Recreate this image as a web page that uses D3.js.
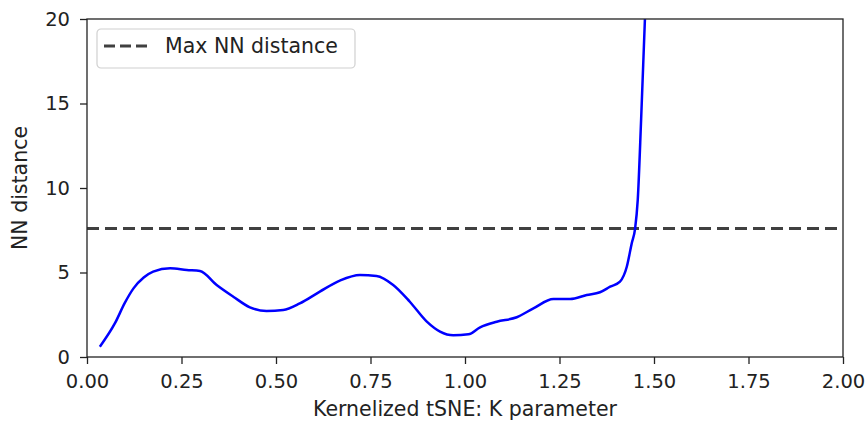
<!DOCTYPE html>
<html>
<head>
<meta charset="UTF-8">
<script src="https://d3js.org/d3.v7.min.js"></script>
<style>
  body { margin: 0; background: #fff; }
  svg text { font-family: "DejaVu Sans", sans-serif; fill: #222; }
</style>
</head>
<body>
<svg></svg>
<script>

// K parameter values
var kValues = [0.034, 0.074, 0.10, 0.123, 0.15, 0.175, 0.22, 0.264, 0.299, 0.343,
  0.387, 0.431, 0.475, 0.519, 0.563, 0.616, 0.669, 0.722, 0.766, 0.81,
  0.854, 0.899, 0.934, 0.969, 1.009, 1.04, 1.084, 1.137, 1.181, 1.234,
  1.278, 1.322, 1.357, 1.384, 1.41, 1.428, 1.441, 1.45, 1.457, 1.466,
  1.476, 1.485]
// NN distance
var nnDist = [0.61, 2.0, 3.2, 4.06, 4.7, 5.05, 5.25, 5.15, 5.09, 4.26,
  3.57, 2.94, 2.72, 2.78, 3.17, 3.87, 4.52, 4.85, 4.79, 4.26,
  3.27, 2.09, 1.5, 1.28, 1.34, 1.76, 2.09, 2.35, 2.88, 3.43,
  3.43, 3.67, 3.83, 4.16, 4.46, 5.34, 6.72, 7.6, 9.3, 14.1,
  20, 25]
var maxNN = 7.6
var xTicks = [0, 0.25, 0.5, 0.75, 1.0, 1.25, 1.5, 1.75, 2.0]
var yTicks = [0, 5, 10, 15, 20]

var width = 868, height = 421
var margin = {top: 19, right: 25, bottom: 64, left: 87}
var plotW = width - margin.left - margin.right,
    plotH = height - margin.top - margin.bottom

var svg = d3.select("svg").attr("width", width).attr("height", height)

var x = d3.scaleLinear().domain([0, 2]).range([0, plotW])
var y = d3.scaleLinear().domain([0, 20]).range([plotH, 0])

var g = svg.append("g")
  .attr("transform", "translate(" + margin.left + "," + margin.top + ")")

g.append("clipPath").attr("id", "clip")
  .append("rect").attr("width", plotW).attr("height", plotH)

// dashed max line
g.append("line")
  .attr("x1", 0).attr("x2", plotW)
  .attr("y1", y(maxNN)).attr("y2", y(maxNN))
  .attr("stroke", "#404040")
  .attr("stroke-width", 3)
  .attr("stroke-dasharray", "12,6")

var pts = kValues.map(function(k, i) { return [k, nnDist[i]] })

var line = d3.line()
  .x(function(d) { return x(d[0]) })
  .y(function(d) { return y(d[1]) })
  .curve(d3.curveMonotoneX)

g.append("path")
  .datum(pts)
  .attr("clip-path", "url(#clip)")
  .attr("d", line)
  .attr("fill", "none")
  .attr("stroke", "#0000ff")
  .attr("stroke-width", 2.5)

// axes
var xAxis = g.append("g")
  .attr("transform", "translate(0," + plotH + ")")
  .call(d3.axisBottom(x).tickValues(xTicks).tickFormat(d3.format(".2f"))
    .tickSize(7).tickPadding(10).tickSizeOuter(0))
var yAxis = g.append("g")
  .call(d3.axisLeft(y).tickValues(yTicks).tickFormat(d3.format("d"))
    .tickSize(7).tickPadding(10).tickSizeOuter(0))

;[xAxis, yAxis].forEach(function(a) {
  a.selectAll("text").style("font-size", "19.5px").attr("fill", "#222")
  a.selectAll("line").attr("stroke", "#222").attr("stroke-width", 1.3)
  a.select(".domain").remove()
})

// frame
g.append("rect")
  .attr("width", plotW).attr("height", plotH)
  .attr("fill", "none")
  .attr("stroke", "#222")
  .attr("stroke-width", 1.3)

// axis labels
svg.append("text")
  .attr("x", margin.left + plotW / 2)
  .attr("y", 416)
  .attr("text-anchor", "middle")
  .style("font-size", "20.5px")
  .text("Kernelized tSNE: K parameter")

svg.append("text")
  .attr("transform", "translate(27," + (margin.top + plotH / 2) + ") rotate(-90)")
  .attr("text-anchor", "middle")
  .style("font-size", "20.5px")
  .text("NN distance")

// legend
var leg = svg.append("g").attr("transform", "translate(97,29)")
leg.append("rect")
  .attr("width", 258).attr("height", 39)
  .attr("rx", 4)
  .attr("fill", "#fff")
  .attr("fill-opacity", 0.8)
  .attr("stroke", "#d0d0d0")
  .attr("stroke-width", 1.2)
leg.append("line")
  .attr("x1", 7).attr("x2", 50)
  .attr("y1", 17).attr("y2", 17)
  .attr("stroke", "#404040")
  .attr("stroke-width", 3)
  .attr("stroke-dasharray", "11,5")
leg.append("text")
  .attr("x", 68).attr("y", 24)
  .style("font-size", "20.5px")
  .text("Max NN distance")

</script>
</body>
</html>
